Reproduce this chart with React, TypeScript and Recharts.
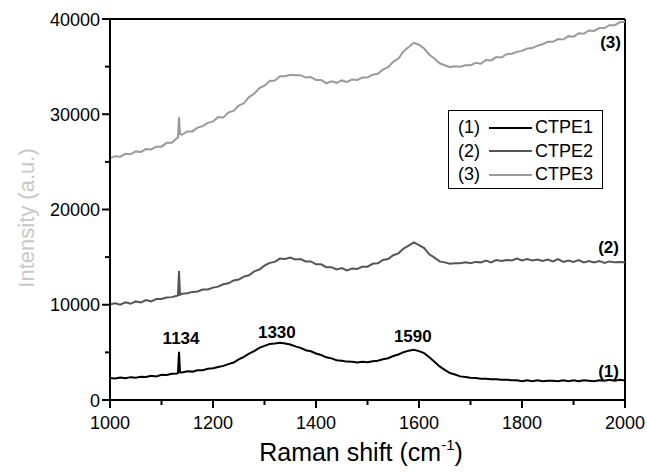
import React from 'react';
import { LineChart, Line, XAxis, YAxis, Legend, ReferenceLine, ReferenceDot } from 'recharts';

// Raman shift sampling (cm-1)
const ramanShift = [
  1000, 1010, 1020, 1030, 1040, 1050, 1060, 1070, 1080, 1090, 1100, 1110, 1120, 1130, 1132, 1134, 1136,
  1140, 1150, 1160, 1170, 1180, 1190, 1200, 1210, 1220, 1230, 1240, 1250, 1260, 1270, 1280, 1290, 1300,
  1310, 1320, 1330, 1340, 1350, 1360, 1370, 1380, 1390, 1400, 1410, 1420, 1430, 1440, 1450, 1460, 1470,
  1480, 1490, 1500, 1510, 1520, 1530, 1540, 1550, 1560, 1570, 1580, 1590, 1600, 1610, 1620, 1630, 1640,
  1650, 1660, 1670, 1680, 1690, 1700, 1710, 1720, 1730, 1740, 1750, 1760, 1770, 1780, 1790, 1800, 1810,
  1820, 1830, 1840, 1850, 1860, 1870, 1880, 1890, 1900, 1910, 1920, 1930, 1940, 1950, 1960, 1970, 1980,
  1990, 2000,
];

const ctpe1 = [
  2300, 2250, 2350, 2280, 2400, 2330, 2450, 2420, 2550, 2480, 2650, 2620, 2750, 2780, 2850, 5050, 2900,
  2880, 3020, 2980, 3120, 3130, 3270, 3330, 3470, 3580, 3770, 3930, 4270, 4530, 4870, 5130, 5470, 5680,
  5870, 5930, 6020, 5930, 5820, 5630, 5470, 5230, 5120, 4880, 4720, 4480, 4370, 4180, 4120, 4030, 4020,
  3930, 4020, 3960, 4070, 4130, 4270, 4380, 4620, 4780, 5020, 5180, 5270, 5130, 4920, 4480, 4020, 3530,
  3170, 2830, 2670, 2480, 2420, 2330, 2320, 2230, 2220, 2180, 2170, 2130, 2120, 2080, 2070, 1980, 2070,
  1980, 2070, 1980, 2020, 2030, 1980, 2070, 1980, 2070, 1980, 2070, 2030, 1980, 2070, 2030, 2120, 2030,
  2120, 2050,
];

const ctpe2 = [
  10050, 10150, 10000, 10250, 10100, 10350, 10250, 10500, 10350, 10600, 10600, 10750, 10800, 10950, 11000, 13550, 11050,
  11150, 11200, 11350, 11400, 11600, 11600, 11800, 11900, 12150, 12250, 12550, 12650, 12950, 13100, 13500, 13700, 14100,
  14400, 14500, 14850, 14800, 14950, 14750, 14800, 14550, 14550, 14250, 14250, 13950, 13950, 13700, 13850, 13600, 13800,
  13750, 14000, 14000, 14300, 14350, 14700, 14800, 15200, 15400, 15900, 16200, 16550, 16250, 15950, 15300, 14950, 14550,
  14450, 14300, 14350, 14350, 14450, 14350, 14500, 14450, 14650, 14450, 14700, 14600, 14700, 14650, 14850, 14650, 14800,
  14650, 14750, 14600, 14750, 14550, 14800, 14500, 14650, 14500, 14700, 14450, 14600, 14450, 14600, 14400, 14550, 14450,
  14500, 14450,
];

const ctpe3 = [
  25400, 25600, 25550, 25850, 25800, 26100, 26050, 26350, 26300, 26600, 26600, 27000, 27000, 27500, 27550, 29700, 27900,
  27850, 28200, 28200, 28600, 28750, 29100, 29250, 29700, 29650, 30200, 30350, 30900, 31150, 31800, 32150, 32750, 33000,
  33500, 33550, 34000, 34000, 34150, 34100, 34100, 33850, 33900, 33600, 33600, 33250, 33450, 33300, 33550, 33400, 33650,
  33600, 33850, 33850, 34150, 34250, 34700, 34950, 35500, 35850, 36600, 37050, 37500, 37300, 36900, 36250, 35850, 35350,
  35150, 34950, 35050, 35000, 35150, 35150, 35400, 35300, 35700, 35650, 36000, 35950, 36300, 36350, 36550, 36650, 36900,
  36950, 37200, 37350, 37600, 37600, 37900, 37850, 38200, 38150, 38500, 38450, 38800, 38750, 39050, 39050, 39350, 39350,
  39650, 39700,
];

const xTicks = [1000, 1100, 1200, 1300, 1400, 1500, 1600, 1700, 1800, 1900, 2000];
const yTicks = [0, 5000, 10000, 15000, 20000, 25000, 30000, 35000, 40000];

const seriesKeys = ['ctpe1', 'ctpe2', 'ctpe3'];
const seriesNames = ['CTPE1', 'CTPE2', 'CTPE3'];
const seriesTags = ['(1)', '(2)', '(3)'];
const seriesColors = ['#000000', '#555555', '#9a9a9a'];

// text annotations placed in data coordinates
const notes = [
  { x: 1138, y: 6500, text: '1134' },
  { x: 1324, y: 7140, text: '1330' },
  { x: 1588, y: 6720, text: '1590' },
  { x: 1968, y: 3050, text: '(1)' },
  { x: 1968, y: 16060, text: '(2)' },
  { x: 1972, y: 37600, text: '(3)' },
];

const data = ramanShift.map((x, i) => ({ x, ctpe1: ctpe1[i], ctpe2: ctpe2[i], ctpe3: ctpe3[i] }));

const FONT = '"Liberation Sans", Arial, Helvetica, sans-serif';

// outward tick marks, lengths converted to data units (about 105 units/px on y, 1.94 units/px on x)
const xTickLen = (v: number) => (v % 200 === 0 ? 8 : 5) * 105;
const yTickLen = (v: number) => (v % 10000 === 0 ? 8 : 5) * 1.94;

// tick labels only, the marks are drawn with reference segments below
const XTick = (props: any) => {
  const x = Number(props.x);
  const y = Number(props.y);
  const v = props.payload.value;
  if (v % 200 !== 0) return <g />;
  return (
    <text x={x} y={y + 29} textAnchor="middle" fontSize={18} fontFamily={FONT} fill="#000">
      {v}
    </text>
  );
};

const YTick = (props: any) => {
  const x = Number(props.x);
  const y = Number(props.y);
  const v = props.payload.value;
  if (v % 10000 !== 0) return <g />;
  return (
    <text x={x - 10} y={y + 6.5} textAnchor="end" fontSize={18} fontFamily={FONT} fill="#000">
      {v}
    </text>
  );
};

const XLabel = () => (
  <text x={361} y={461} textAnchor="middle" fontSize={25} fontFamily={FONT} fill="#000">
    Raman shift (cm
    <tspan fontSize={15} dy={-11}>-1</tspan>
    <tspan dy={11}>)</tspan>
  </text>
);

const YLabel = () => (
  <text
    x={26}
    y={218}
    transform="rotate(-90, 26, 218)"
    textAnchor="middle"
    dominantBaseline="central"
    fontSize={22}
    fontFamily={FONT}
    fill="#c8c8c8"
  >
    Intensity (a.u.)
  </text>
);

const LegendBox = () => (
  <div
    style={{
      border: '1px solid #000',
      background: '#fff',
      width: 155,
      height: 79,
      boxSizing: 'border-box',
      paddingTop: 5,
      paddingLeft: 9,
      fontFamily: FONT,
      fontSize: 18,
      color: '#000',
    }}
  >
    {seriesNames.map((name, i) => (
      <div key={name} style={{ display: 'flex', alignItems: 'center', height: 23.5 }}>
        <span style={{ width: 31 }}>{seriesTags[i]}</span>
        <svg width={43} height={6} style={{ marginRight: 3 }}>
          <line x1={0} x2={43} y1={3} y2={3} stroke={seriesColors[i]} strokeWidth={2} />
        </svg>
        <span>{name}</span>
      </div>
    ))}
  </div>
);

export default function App() {
  return (
    <div style={{ width: 647, height: 474 }}>
      <style>{'body{margin:0;background:#fff}'}</style>
      <LineChart width={647} height={474} data={data} margin={{ top: 19, right: 22, left: 10, bottom: 0 }}>
        <XAxis
          dataKey="x"
          type="number"
          domain={[1000, 2000]}
          ticks={xTicks}
          interval={0}
          tickSize={0}
          tickMargin={0}
          tickLine={false}
          tick={<XTick />}
          axisLine={{ stroke: '#000', strokeWidth: 2 }}
          height={74}
          label={<XLabel />}
        />
        <YAxis
          type="number"
          domain={[0, 40000]}
          ticks={yTicks}
          interval={0}
          tickSize={0}
          tickMargin={0}
          tickLine={false}
          tick={<YTick />}
          axisLine={{ stroke: '#000', strokeWidth: 2 }}
          width={100}
          label={<YLabel />}
        />
        <ReferenceLine y={40000} stroke="#000" strokeWidth={2} />
        <ReferenceLine x={2000} stroke="#000" strokeWidth={2} />
        {xTicks.map((v) => (
          <ReferenceLine
            key={`xt${v}`}
            segment={[{ x: v, y: 0 }, { x: v, y: -xTickLen(v) }]}
            stroke="#000"
            strokeWidth={2}
            ifOverflow="visible"
          />
        ))}
        {yTicks.map((v) => (
          <ReferenceLine
            key={`yt${v}`}
            segment={[{ x: 1000, y: v }, { x: 1000 - yTickLen(v), y: v }]}
            stroke="#000"
            strokeWidth={2}
            ifOverflow="visible"
          />
        ))}
        {seriesKeys.map((k, i) => (
          <Line
            key={k}
            type="linear"
            dataKey={k}
            name={seriesNames[i]}
            stroke={seriesColors[i]}
            strokeWidth={2}
            dot={false}
            isAnimationActive={false}
          />
        ))}
        {notes.map((n) => (
          <ReferenceDot
            key={n.text}
            x={n.x}
            y={n.y}
            r={0}
            fill="none"
            stroke="none"
            label={{ value: n.text, position: 'center', fontSize: 17, fontWeight: 'bold', fill: '#000', fontFamily: FONT }}
          />
        ))}
        <Legend
          layout="horizontal"
          verticalAlign="middle"
          align="center"
          content={<LegendBox />}
          wrapperStyle={{ left: 448, top: 110, width: 155, height: 79 }}
        />
      </LineChart>
    </div>
  );
}
